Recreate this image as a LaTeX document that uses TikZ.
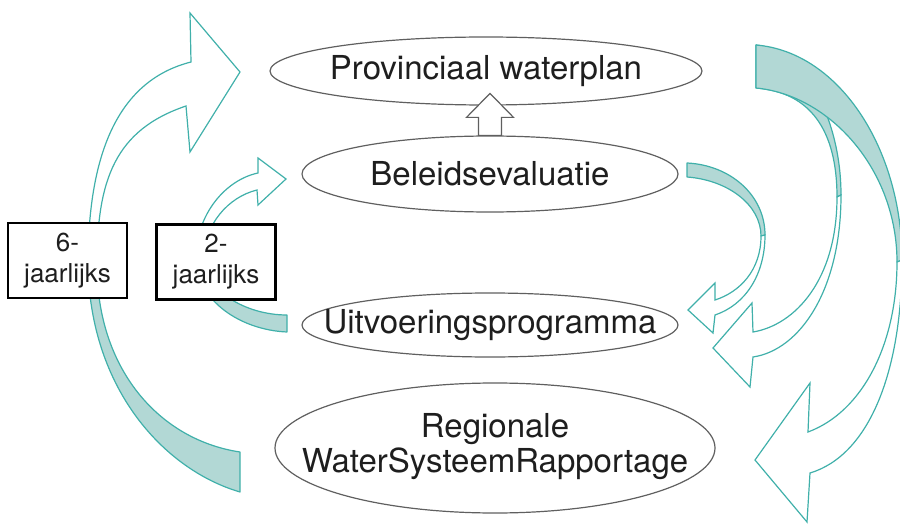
\documentclass[tikz,border=0pt]{standalone}
\usepackage{fontspec}
\setmainfont{TeX Gyre Heros}
\usetikzlibrary{shapes.geometric}

\definecolor{tealline}{RGB}{64,176,170}
\definecolor{tealfill}{RGB}{178,216,213}
\definecolor{rim}{RGB}{95,95,95}
\definecolor{ink}{RGB}{30,30,30}

\tikzstyle{bubble} = [ellipse,draw=rim,line width=0.6pt,inner sep=0pt,text=ink,font=\fontsize{16.5}{17.5}\selectfont]
\tikzstyle{period} = [rectangle,draw=black,line width=1.3pt,fill=white,align=center,text=ink,font=\fontsize{13}{15.5}\selectfont,minimum width=59.5pt,minimum height=37.5pt,inner sep=0pt]
\tikzstyle{back} = [draw=tealline,fill=tealfill,line width=0.6pt,line join=round]
\tikzstyle{front} = [draw=tealline,fill=white,line width=0.6pt]
\tikzstyle{hollow} = [draw=rim,fill=white,line width=0.6pt]

\begin{document}
\begin{tikzpicture}[x=0.5pt,y=-0.5pt]
	\useasboundingbox (0,0) rectangle (900,524);
	% phases
	\node (pwp) [bubble,minimum width=216pt,minimum height=34pt] at (486,71) {\makebox[0pt]{Provinciaal waterplan}};
	\node (bel) [bubble,minimum width=188pt,minimum height=38pt] at (490,174) {\makebox[0pt]{Beleidsevaluatie}};
	\node (uit) [bubble,minimum width=188pt,minimum height=32pt] at (490,325) {\makebox[0pt]{Uitvoeringsprogramma}};
	\node (rws) [bubble,minimum width=220pt,minimum height=65pt] at (495,448) {\makebox[0pt]{\begin{tabular}{@{}c@{}}Regionale\\WaterSysteemRapportage\end{tabular}}};
	% 6-jaarlijks cycle (left)
	\filldraw[back] (88,265) .. controls (90,390) and (165,470) .. (240,492) -- (240,452)
		.. controls (160,440) and (97,370) .. (97,265) -- cycle;
	\filldraw[front] (88,265) .. controls (88,150) and (120,80) .. (191,62) -- (190,13) -- (240,72)
		-- (190,152) -- (186,106) .. controls (115,130) and (97,180) .. (97,265) -- cycle;
	% 2-jaarlijks cycle (left)
	\filldraw[back] (196,258) .. controls (196,300) and (240,330) .. (287,332) -- (287,315)
		.. controls (245,315) and (204,290) .. (204,258) -- cycle;
	\filldraw[front] (196,258) .. controls (196,215) and (225,180) .. (258,173) -- (258,158) -- (286,179)
		-- (258,205) -- (257,190) .. controls (228,197) and (204,225) .. (204,258) -- cycle;
	% 2-jaarlijks cycle (right)
	\filldraw[back] (687,163) .. controls (730,165) and (765,195) .. (765,235) -- (761,236)
		.. controls (761,205) and (728,180) .. (687,177) -- cycle;
	\filldraw[front] (765,235) .. controls (765,275) and (745,305) .. (715,315) -- (713,333) -- (688,310)
		-- (715,283) -- (715,300) .. controls (740,292) and (761,270) .. (761,236) -- cycle;
	% 6-jaarlijks cycle (right)
	\filldraw[back] (756,45) .. controls (805,50) and (841,120) .. (841,195) -- (837,197)
		.. controls (837,130) and (810,92) .. (756,88) -- cycle;
	\filldraw[front] (841,195) .. controls (841,290) and (800,350) .. (753,357) -- (750,387) -- (713,348)
		-- (752,303) -- (753,332) .. controls (795,325) and (837,280) .. (837,197) -- cycle;
	\filldraw[back] (756,45) .. controls (840,52) and (902,150) .. (902,260) -- (897,262)
		.. controls (897,170) and (830,95) .. (756,88) -- cycle;
	\filldraw[front] (902,260) .. controls (902,370) and (870,455) .. (810,473) -- (807,522) -- (755,460)
		-- (810,383) -- (808,432) .. controls (862,412) and (897,345) .. (897,262) -- cycle;
	% periods
	\node (six) [period] at (67.5,260.5) {6-\\jaarlijks};
	\node (two) [period] at (216,262) {2-\\jaarlijks};
	% evaluation feeds the plan
	\draw[hollow,shift={(bel.north)}] (-11.5,0) -- (-11.5,-18) -- (-23.5,-18) -- (0,-42)
		-- (23.5,-18) -- (11.5,-18) -- (11.5,0) -- cycle;
\end{tikzpicture}
\end{document}
